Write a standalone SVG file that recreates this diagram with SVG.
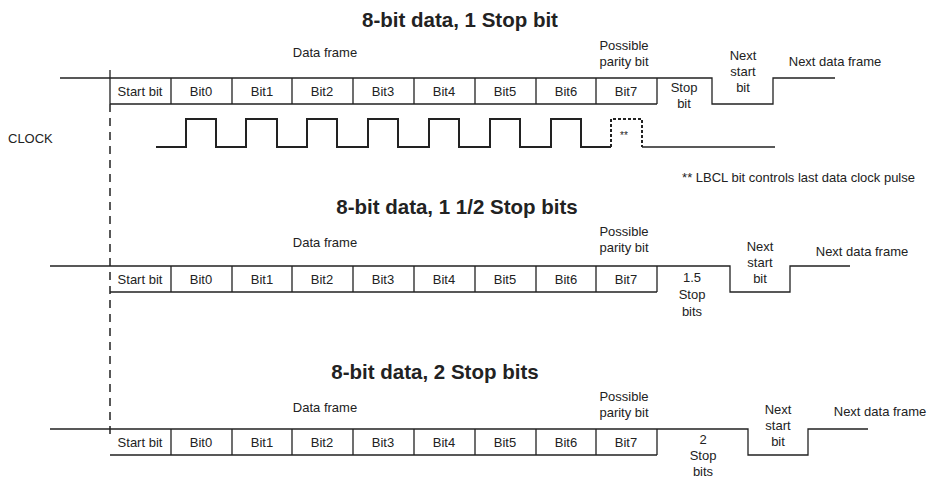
<svg xmlns="http://www.w3.org/2000/svg" width="938" height="479" viewBox="0 0 938 479">
<style>
text{font-family:"Liberation Sans",Arial,sans-serif;font-size:13px;fill:#222;text-anchor:middle}
.t{font-size:20.5px;font-weight:bold}
.w{fill:none;stroke:#222;stroke-width:1.3}
.c{fill:none;stroke:#222;stroke-width:2}
.d{fill:none;stroke:#222;stroke-width:1.5;stroke-dasharray:8,6}
</style>
<rect width="938" height="479" fill="#fff"/>
<g id="connectors">
<path class="d" d="M110 104V440"/>
</g>
<g id="frame1">
<text class="t" x="460" y="27">8-bit data, 1 Stop bit</text>
<text x="325" y="57">Data frame</text>
<text x="624" y="50">Possible</text><text x="624" y="66">parity bit</text>
<path class="w" d="M60 78H110M110 70V104M110 78H712V104H773V78H835M110 104H657M171 78V104M232 78V104M292 78V104M353 78V104M414 78V104M475 78V104M536 78V104M596 78V104M657 78V104"/>
<text x="140" y="96">Start bit</text><text x="201" y="96">Bit0</text><text x="262" y="96">Bit1</text><text x="322" y="96">Bit2</text><text x="383" y="96">Bit3</text><text x="444" y="96">Bit4</text><text x="505" y="96">Bit5</text><text x="566" y="96">Bit6</text><text x="626" y="96">Bit7</text>
<text x="684" y="92">Stop</text><text x="684" y="108">bit</text>
<text x="743" y="60">Next</text><text x="743" y="76">start</text><text x="743" y="92">bit</text>
<text x="835" y="66">Next data frame</text>
</g>
<g id="clock">
<text x="8" y="143" style="text-anchor:start">CLOCK</text>
<path class="c" d="M156 147H186V119H216V147H246V119H277V147H307V119H337V147H368V119H398V147H429V119H459V147H490V119H520V147H551V119H581V147H611"/>
<path class="c" stroke-dasharray="3,2" d="M611 147V119H642V147"/>
<path class="w" d="M642 147H775"/>
<text x="624" y="139" style="font-size:10px">**</text>
<text x="915" y="182" style="text-anchor:end">** LBCL bit controls last data clock pulse</text>
</g>
<g id="frame2">
<text class="t" x="457" y="214">8-bit data, 1 1/2 Stop bits</text>
<text x="325" y="247">Data frame</text>
<text x="624" y="236">Possible</text><text x="624" y="252">parity bit</text>
<path class="w" d="M50 266H110M110 266H730V292H790V266H850M110 292H657M171 266V292M232 266V292M292 266V292M353 266V292M414 266V292M475 266V292M536 266V292M596 266V292M657 266V292"/>
<text x="140" y="284">Start bit</text><text x="201" y="284">Bit0</text><text x="262" y="284">Bit1</text><text x="322" y="284">Bit2</text><text x="383" y="284">Bit3</text><text x="444" y="284">Bit4</text><text x="505" y="284">Bit5</text><text x="566" y="284">Bit6</text><text x="626" y="284">Bit7</text>
<text x="692" y="282">1.5</text><text x="692" y="299">Stop</text><text x="692" y="316">bits</text>
<text x="760" y="251">Next</text><text x="760" y="267">start</text><text x="760" y="283">bit</text>
<text x="862" y="256">Next data frame</text>
</g>
<g id="frame3">
<text class="t" x="435" y="379">8-bit data, 2 Stop bits</text>
<text x="325" y="412">Data frame</text>
<text x="624" y="401">Possible</text><text x="624" y="417">parity bit</text>
<path class="w" d="M50 429H110M110 429H748V455H808V429H868M110 455H657M171 429V455M232 429V455M292 429V455M353 429V455M414 429V455M475 429V455M536 429V455M596 429V455M657 429V455"/>
<text x="140" y="447">Start bit</text><text x="201" y="447">Bit0</text><text x="262" y="447">Bit1</text><text x="322" y="447">Bit2</text><text x="383" y="447">Bit3</text><text x="444" y="447">Bit4</text><text x="505" y="447">Bit5</text><text x="566" y="447">Bit6</text><text x="626" y="447">Bit7</text>
<text x="703" y="444">2</text><text x="703" y="460">Stop</text><text x="703" y="476">bits</text>
<text x="778" y="414">Next</text><text x="778" y="430">start</text><text x="778" y="446">bit</text>
<text x="880" y="416">Next data frame</text>
</g>
</svg>
